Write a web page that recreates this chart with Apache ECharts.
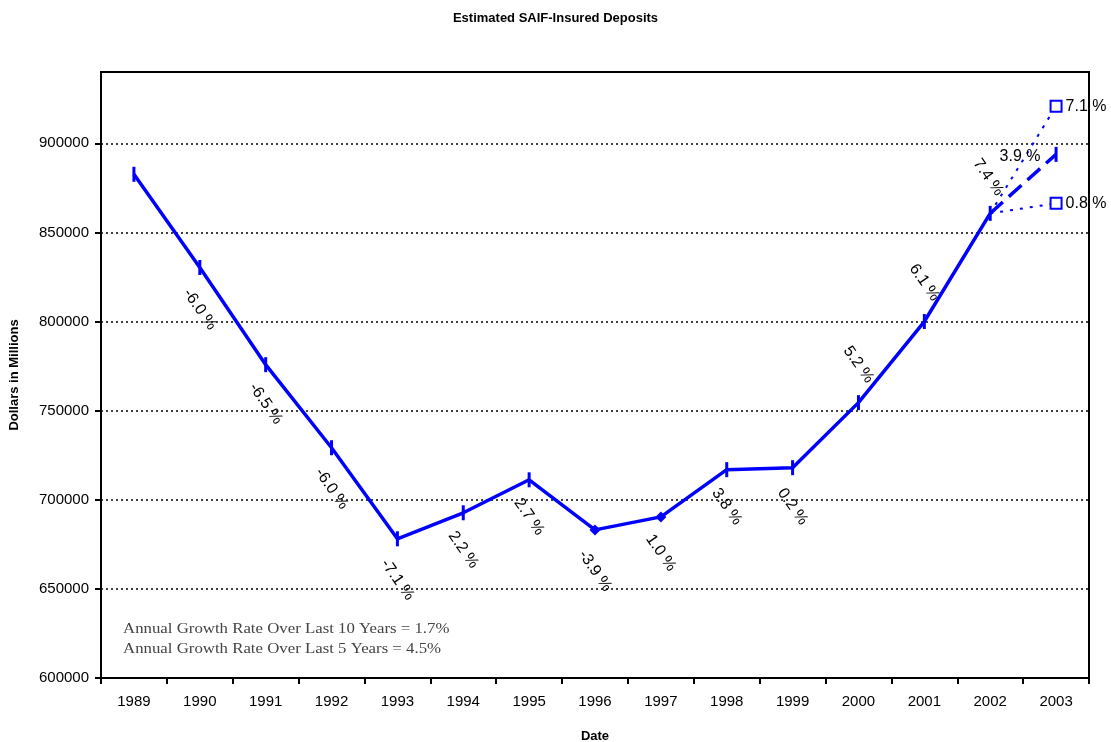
<!DOCTYPE html>
<html>
<head>
<meta charset="utf-8">
<script src="https://cdn.jsdelivr.net/npm/echarts@6/dist/echarts.min.js"></script>
<style>
html,body{margin:0;padding:0;background:#fff;}
#pic_chart{width:1111px;height:742px;}
</style>
</head>
<body>
<div id="pic_chart"></div>
<script>
var years = ['1989','1990','1991','1992','1993','1994','1995','1996','1997','1998','1999','2000','2001','2002','2003'];
// estimated deposits, 1989-2002 actual
var deposits = [882600, 830300, 775800, 729200, 678100, 692700, 711200, 683100, 690400, 716900, 718000, 754500, 800000, 860700];
var growth = ['', '-6.0 %', '-6.5 %', '-6.0 %', '-7.1 %', '2.2 %', '2.7 %', '-3.9 %', '1.0 %', '3.8 %', '0.2 %', '5.2 %', '6.1 %', '7.4 %'];
// 2003 projections: mid, high, low
var proj2003 = [893800, 920800, 866300];
var projGrowth = ['3.9 %', '7.1 %', '0.8 %'];
var yTicks = [600000, 650000, 700000, 750000, 800000, 850000, 900000];
var notes = ['Annual Growth Rate Over Last 10 Years = 1.7%', 'Annual Growth Rate Over Last 5 Years = 4.5%'];

var blue = '#0000ff';
// label shifts from each point (px)
var labelShift = [[0,0],[0,42],[0,39],[0,41],[0,41],[0,37],[0,37],[0,41],[0,36],[0,37],[0,39],[0,-38],[0,-39],[-2,-36]];

var mainData = deposits.map(function (v, i) {
    var diamond = (years[i] === '1996' || years[i] === '1997');
    return {
        value: v,
        symbol: diamond ? 'diamond' : 'rect',
        symbolSize: diamond ? [11, 11] : [3, 15]
    };
});

function pad(arr) {
    var out = years.map(function () { return '-'; });
    arr.forEach(function (p) { out[p[0]] = p[1]; });
    return out;
}
var last = years.length - 1;
var lblFont = {fontFamily: 'Liberation Sans', fontSize: 16, color: '#000'};

var myChart = echarts.init(document.getElementById('pic_chart'));
var option = {
    animation: false,
    backgroundColor: '#fff',
    title: {
        text: 'Estimated SAIF-Insured Deposits',
        left: 'center',
        top: 7,
        textStyle: {fontFamily: 'Liberation Sans', fontSize: 13, fontWeight: 'bold', color: '#000'}
    },
    grid: {
        left: 101, right: 22, top: 72, bottom: 64,
        outerBoundsMode: 'none', containLabel: false,
        show: true, borderColor: '#000', borderWidth: 2
    },
    xAxis: {
        type: 'category',
        data: years,
        boundaryGap: true,
        name: 'Date',
        nameLocation: 'middle',
        nameGap: 52,
        nameTextStyle: {fontFamily: 'Liberation Sans', fontSize: 13, fontWeight: 'bold', color: '#000'},
        axisLine: {lineStyle: {color: '#000', width: 2}},
        axisTick: {show: true, length: 6, lineStyle: {color: '#000', width: 2}},
        axisLabel: {fontFamily: 'Liberation Sans', fontSize: 15, color: '#000', margin: 16}
    },
    yAxis: {
        type: 'value',
        min: yTicks[0],
        max: 940000,
        interval: 50000,
        name: 'Dollars in Millions',
        nameLocation: 'middle',
        nameGap: 80,
        nameTextStyle: {fontFamily: 'Liberation Sans', fontSize: 13, fontWeight: 'bold', color: '#000'},
        axisLine: {show: true, lineStyle: {color: '#000', width: 2}},
        axisTick: {show: true, length: 6, customValues: yTicks, lineStyle: {color: '#000', width: 2}},
        axisLabel: {
            fontFamily: 'Liberation Sans', fontSize: 15, color: '#000', margin: 12,
            customValues: yTicks,
            formatter: function (v) { return String(v); }
        },
        splitLine: {lineStyle: {color: '#000', width: 1.5, type: [2, 3]}}
    },
    graphic: [{
        type: 'text',
        left: 123,
        top: 619,
        scaleX: 1.2,
        style: {
            text: notes.join('\n'),
            font: '14px "Liberation Serif"',
            lineHeight: 20,
            fill: '#444'
        }
    }],
    series: [
        {
            name: 'high',
            type: 'line',
            data: pad([[last - 1, deposits[last - 1]], [last, proj2003[1]]]),
            lineStyle: {color: blue, width: 2, type: [3, 7]},
            itemStyle: {color: '#fff', borderColor: blue, borderWidth: 2},
            symbol: function (v, p) { return p.dataIndex === last ? 'rect' : 'none'; },
            symbolSize: 11,
            showAllSymbol: true,
            label: Object.assign({
                show: true, position: 'right', distance: 3,
                formatter: function (p) { return p.dataIndex === last ? projGrowth[1] : ''; }
            }, lblFont),
            z: 2
        },
        {
            name: 'low',
            type: 'line',
            data: pad([[last - 1, deposits[last - 1]], [last, proj2003[2]]]),
            lineStyle: {color: blue, width: 2, type: [3, 7]},
            itemStyle: {color: '#fff', borderColor: blue, borderWidth: 2},
            symbol: function (v, p) { return p.dataIndex === last ? 'rect' : 'none'; },
            symbolSize: 11,
            showAllSymbol: true,
            label: Object.assign({
                show: true, position: 'right', distance: 3,
                formatter: function (p) { return p.dataIndex === last ? projGrowth[2] : ''; }
            }, lblFont),
            z: 2
        },
        {
            name: 'mid',
            type: 'line',
            data: pad([[last - 1, deposits[last - 1]], [last, proj2003[0]]]),
            lineStyle: {color: blue, width: 3.5, type: [17, 8]},
            itemStyle: {color: blue},
            symbol: function (v, p) { return p.dataIndex === last ? 'rect' : 'none'; },
            symbolSize: [3, 15],
            showAllSymbol: true,
            label: Object.assign({
                show: true,
                formatter: function (p) { return p.dataIndex === last ? projGrowth[0] : ''; }
            }, lblFont),
            labelLayout: function (p) {
                return {x: p.rect.x + p.rect.width / 2 - 36, y: p.rect.y + p.rect.height / 2 + 2, align: 'center', verticalAlign: 'middle'};
            },
            z: 3
        },
        {
            name: 'deposits',
            type: 'line',
            data: mainData,
            lineStyle: {color: blue, width: 3.5},
            itemStyle: {color: blue},
            showAllSymbol: true,
            label: Object.assign({
                show: true,
                formatter: function (p) { return growth[p.dataIndex]; }
            }, lblFont),
            labelLayout: function (p) {
                var s = labelShift[p.dataIndex];
                return {
                    x: p.rect.x + p.rect.width / 2 + s[0],
                    y: p.rect.y + p.rect.height / 2 + s[1],
                    align: 'center', verticalAlign: 'middle', rotate: -55
                };
            },
            z: 4
        }
    ]
};
myChart.setOption(option);
</script>
</body>
</html>
